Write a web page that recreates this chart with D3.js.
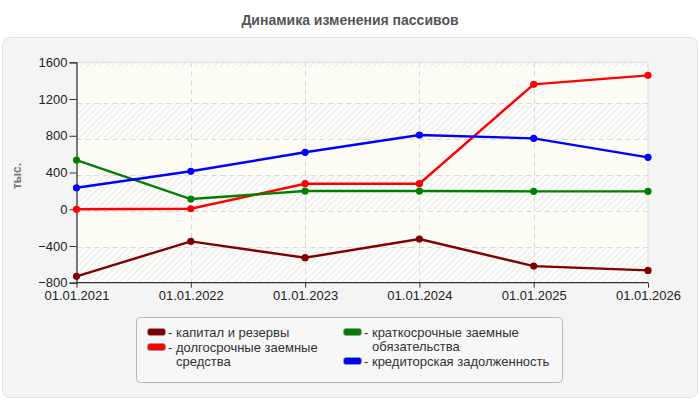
<!DOCTYPE html>
<html><head><meta charset="utf-8">
<script src="https://cdn.jsdelivr.net/npm/d3@7"></script>
<style>
html,body{margin:0;padding:0;background:#fff;}
text{font-family:"Liberation Sans",Arial,sans-serif;}
</style></head>
<body>
<svg id="chart" width="700" height="400"></svg>
<script>
const categories = ["01.01.2021","01.01.2022","01.01.2023","01.01.2024","01.01.2025","01.01.2026"];
const seriesNames = ["капитал и резервы","долгосрочные заемные средства","краткосрочные заемные обязательства","кредиторская задолженность"];
const seriesColors = ["#800000","#ff0000","#008000","#0000ff"];
const capitalValues = [-731,-350,-528,-325,-619,-666];
const longTermValues = [0,5,278,278,1360,1458];
const shortTermValues = [536,111,198,198,195,195];
const payablesValues = [234,413,620,808,772,565];
const yTicks = [-800,-400,0,400,800,1200,1600];
const titleText = "Динамика изменения пассивов";
const yAxisLabel = "тыс.";
const legendLines = [["- капитал и резервы"],["- долгосрочные заемные","средства"],["- краткосрочные заемные","обязательства"],["- кредиторская задолженность"]];

(function(){
const series = seriesNames.map((n,i)=>({name:n,color:seriesColors[i],values:[capitalValues,longTermValues,shortTermValues,payablesValues][i]}));

const svg = d3.select("#chart");
svg.append("text").attr("x",350).attr("y",25).attr("text-anchor","middle")
  .attr("font-size",14).attr("font-weight","bold").attr("fill","#555").text(titleText);
svg.append("rect").attr("x",2.5).attr("y",37.5).attr("width",695).attr("height",360).attr("rx",7)
  .attr("fill","#f4f4f4").attr("stroke","#e2e2e2");

const pL=76.5, pR=648, pT=62.3, pB=282.7;
const x = d3.scalePoint().domain(categories).range([pL,pR]);
const y = d3.scaleLinear().domain([-800,1600]).range([pB,pT]);
const yGrid = d3.scaleLinear().domain([-800,1600]).range([283,67]);

const defs = svg.append("defs");
const pat = defs.append("pattern").attr("id","hatch").attr("patternUnits","userSpaceOnUse")
  .attr("width",4.5).attr("height",4.5).attr("patternTransform","rotate(45)");
pat.append("rect").attr("width",4.5).attr("height",4.5).attr("fill","#fcfcfb");
pat.append("line").attr("x1",0).attr("y1",0).attr("x2",0).attr("y2",4.5).attr("stroke","#e4e4e4").attr("stroke-width",1.5);

svg.append("rect").attr("x",pL).attr("y",pT).attr("width",pR-pL).attr("height",pB-pT).attr("fill","url(#hatch)");
const bandStarts = [-400,400,1200];
svg.append("g").selectAll("rect").data(bandStarts).join("rect")
  .attr("x",pL).attr("width",pR-pL)
  .attr("y",d=>yGrid(d+400)).attr("height",d=>yGrid(d)-yGrid(d+400))
  .attr("fill","#fdfdf5").attr("fill-opacity",0.9);
svg.append("path").attr("d",`M${pL},${pT}H${pR}V${pB}`).attr("fill","none").attr("stroke","#dcdcdc");

svg.append("g").selectAll("line").data(yTicks.slice(1,-1)).join("line")
  .attr("x1",pL).attr("x2",pR).attr("y1",d=>Math.round(yGrid(d))+0.5).attr("y2",d=>Math.round(yGrid(d))+0.5)
  .attr("stroke","#d9d9d9").attr("stroke-dasharray","5,4");
svg.append("g").selectAll("line").data(categories.slice(1,-1)).join("line")
  .attr("y1",pT).attr("y2",pB).attr("x1",d=>Math.round(x(d))+0.5).attr("x2",d=>Math.round(x(d))+0.5)
  .attr("stroke","#d9d9d9").attr("stroke-dasharray","5,4");

const yAxis = svg.append("g").attr("transform",`translate(${pL},0)`)
  .call(d3.axisLeft(y).tickValues(yTicks).tickFormat(d3.format("d")).tickSize(7).tickPadding(2));
const xAxis = svg.append("g").attr("transform",`translate(0,${pB})`)
  .call(d3.axisBottom(x).tickSize(5).tickPadding(3));
[yAxis,xAxis].forEach(a=>{
  a.select(".domain").attr("stroke","#333").attr("stroke-width",1.3);
  a.selectAll(".tick line").attr("stroke","#333");
  a.selectAll(".tick text").attr("font-size",13).attr("fill","#222").attr("font-family","Liberation Sans, Arial, sans-serif");
});
xAxis.select(".domain").attr("d",`M${pL},0H${pR}`);

svg.append("text").attr("transform","translate(21,176) rotate(-90)").attr("text-anchor","middle")
  .attr("font-size",12).attr("font-weight","bold").attr("fill","#777").text(yAxisLabel);

const line = d3.line().x((d,i)=>x(categories[i])).y(d=>y(d));
const g = svg.append("g");
series.forEach(s=>{
  g.append("path").datum(s.values).attr("d",line).attr("fill","none").attr("stroke",s.color).attr("stroke-width",2.4);
});
series.forEach(s=>{
  g.selectAll(null).data(s.values).join("circle").attr("cx",(d,i)=>x(categories[i])).attr("cy",d=>y(d))
    .attr("r",3.6).attr("fill",s.color);
});

const lg = svg.append("g");
lg.append("rect").attr("x",136.5).attr("y",317.5).attr("width",426).attr("height",65).attr("rx",4)
  .attr("fill","#f7f7f7").attr("stroke","#b8b8b8");
const legPos = [[147,332],[147,347],[343,332],[343,361]];
series.forEach((s,i)=>{
  const [lx,ly]=legPos[i];
  lg.append("rect").attr("x",lx+0.5).attr("y",ly-3.5).attr("width",18).attr("height",7).attr("rx",2.5)
    .attr("fill",s.color).attr("stroke","#999").attr("stroke-width",0.8);
  const t = lg.append("text").attr("x",lx+21).attr("y",ly+4.5).attr("font-size",13).attr("fill","#333");
  legendLines[i].forEach((ln,j)=>{
    t.append("tspan").attr("x",j===0?lx+21:lx+29).attr("dy",j===0?0:14.5).text(ln);
  });
});
})();
</script>
</body></html>
